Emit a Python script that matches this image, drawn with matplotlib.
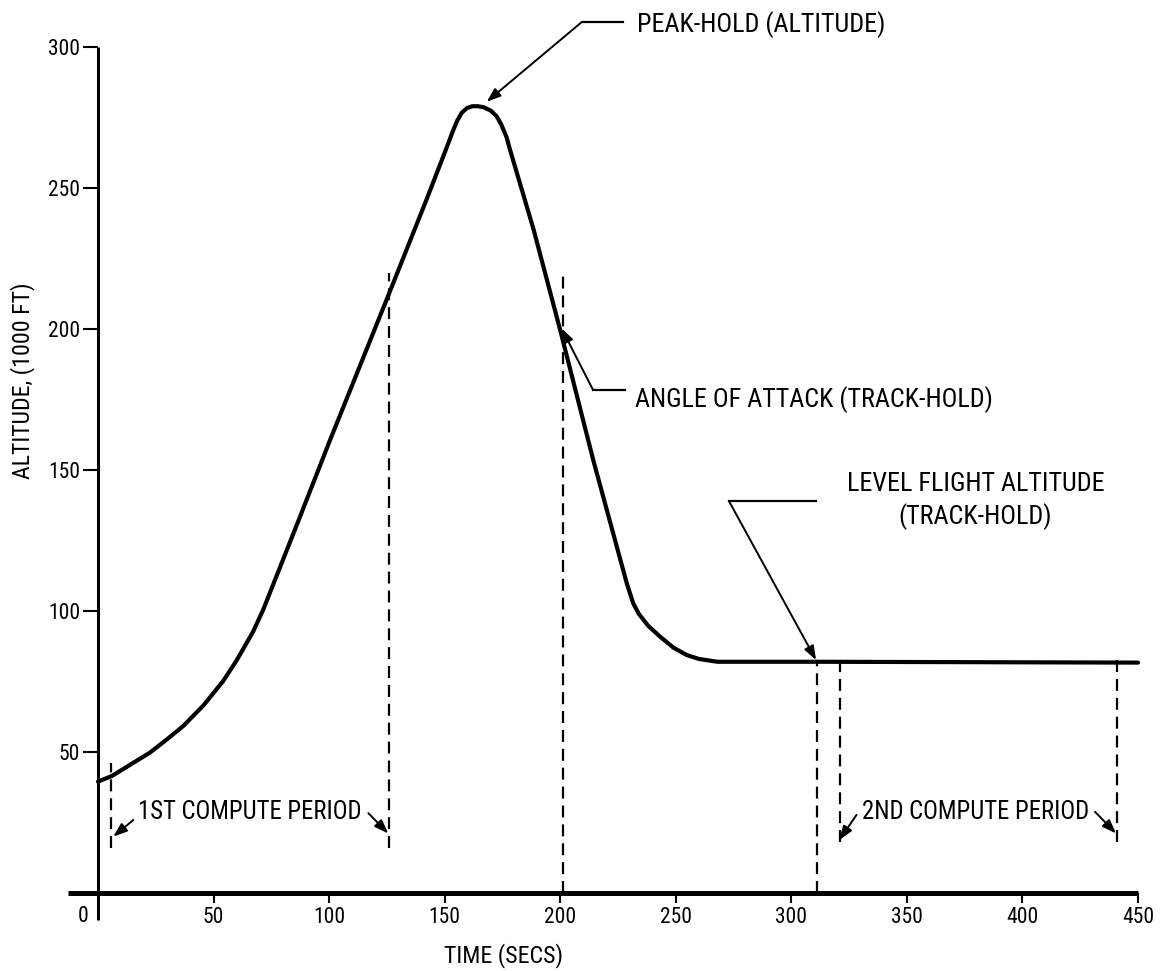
import matplotlib
matplotlib.use("Agg")
import matplotlib.pyplot as plt
from matplotlib import font_manager

# narrow gothic face if there is one, else Liberation Sans
installed = {f.name for f in font_manager.fontManager.ttflist}
face = "Liberation Sans"
for name in ["Liberation Sans Narrow", "DejaVu Sans Condensed", "Roboto Condensed"]:
    if name in installed:
        face = name
        break
plt.rcParams['font.family'] = [face, 'DejaVu Sans']
plt.rcParams['lines.scale_dashes'] = False
narrow = face != "Liberation Sans"

# altitude profile (time in secs, altitude in 1000 ft)
time_s = [0, 6, 11, 22.5, 30, 37, 45.6, 54, 60, 67, 71.5, 86, 100.4,
          126.4, 142.2, 150, 153.7, 155.5, 157.5, 159.8, 162, 164.4, 167,
          170, 172.5, 174.5, 176.8, 178.3, 188.4, 200, 214.3, 228.8, 231.6,
          234, 238, 243.2, 249, 254.7, 260, 268, 311, 450]
altitude = [39.5, 41.5, 44, 49.8, 54.6, 59.3, 66.5, 75, 82.5, 92.5, 100.5,
            130.5, 160.6, 213.5, 246, 262.5, 270.5, 274, 276.8, 278.4, 279, 279,
            278.6, 277.4, 275.4, 272.5, 268, 263.5, 235.5, 199.6, 153.5, 109.8,
            102.7, 99, 94.8, 90.9, 87, 84.4, 83, 82, 82, 81.7]

# dashed markers: (time, bottom, top)
markers_x = [5.6, 126, 201, 311, 321, 441]
markers_lo = [16, 16, 0, 0, 18, 18]
markers_hi = [46, 220, 221, 82, 84, 84]

x_ticks = [50, 100, 150, 200, 250, 300, 350, 400, 450]
y_ticks = [50, 100, 150, 200, 250, 300]

fs_tick = 15.5 if narrow else 13.5
fs_axis = 17.2 if narrow else 14
fs_note = 18.8 if narrow else 15.5
fs_period = 17.8 if narrow else 14.5

fig = plt.figure(figsize=(11.7, 9.71), dpi=100)
ax = fig.add_axes([98 / 1170, 78 / 971, 1040 / 1170, 846 / 971])
ax.set_xlim(0, 450)
ax.set_ylim(0, 300)
for s in ax.spines.values():
    s.set_visible(False)

# axis lines
ax.plot([-13, 450], [0, 0], color="black", lw=3.6, clip_on=False, solid_capstyle="butt")
ax.plot([0, 0], [-9.6, 300], color="black", lw=2.2, clip_on=False, solid_capstyle="butt")

ax.set_xticks(x_ticks)
ax.set_yticks(y_ticks)
ax.tick_params(axis="y", direction="out", length=10.8, width=1.5, pad=2, labelsize=fs_tick)
ax.tick_params(axis="x", direction="out", length=7, width=1.5, pad=3, labelsize=fs_tick)
ax.text(-6.5, -8.2, "0", fontsize=fs_tick, ha="center", va="center")

ax.set_xlabel("TIME (SECS)", fontsize=fs_axis)
ax.xaxis.set_label_coords(175.3 / 450, -17.7 / 300)
ax.set_ylabel("ALTITUDE, (1000 FT)", fontsize=fs_axis)
ax.yaxis.set_label_coords(-27.3 / 450, 181.5 / 300)

# trajectory
ax.plot(time_s, altitude, color="black", lw=3, solid_capstyle="round",
        solid_joinstyle="round", clip_on=False)

# compute period markers
for x, lo, hi in zip(markers_x, markers_lo, markers_hi):
    ax.plot([x, x], [lo, hi], color="black", lw=1.6, dashes=(8.6, 5), clip_on=False)

arrow = dict(arrowstyle="-|>,head_length=0.6,head_width=0.22", color="black",
             lw=1.4, mutation_scale=14, shrinkA=0, shrinkB=0)
lab = dict(fontsize=fs_note, va="center")

# compute periods
ax.text(17.3, 28.8, "1ST COMPUTE PERIOD", ha="left", va="center", fontsize=fs_period)
ax.annotate("", xy=(6.6, 20), xytext=(15.3, 25.9), arrowprops=arrow)
ax.annotate("", xy=(125.6, 21.1), xytext=(117, 28.3), arrowprops=arrow)
ax.text(330.7, 28.8, "2ND COMPUTE PERIOD", ha="left", va="center", fontsize=fs_period)
ax.annotate("", xy=(320.8, 18.8), xytext=(328.2, 27.7), arrowprops=arrow)
ax.annotate("", xy=(440.5, 21.1), xytext=(431.4, 28.8), arrowprops=arrow)

# peak-hold
ax.plot([209.4, 227.2], [308.9, 308.9], color="black", lw=1.6, clip_on=False)
ax.annotate("", xy=(168.2, 280.6), xytext=(209.4, 308.9), arrowprops=arrow, annotation_clip=False)
ax.text(233.2, 307.8, "PEAK-HOLD (ALTITUDE)", ha="left", **lab)

# angle of attack
ax.plot([214.2, 228], [178.4, 178.4], color="black", lw=1.6)
ax.annotate("", xy=(200.6, 200.2), xytext=(214.2, 178.4), arrowprops=arrow)
ax.text(232.4, 174.8, "ANGLE OF ATTACK (TRACK-HOLD)", ha="left", **lab)

# level flight
ax.plot([273, 310.7], [139, 139], color="black", lw=1.6)
ax.annotate("", xy=(310.7, 82.6), xytext=(273, 139), arrowprops=arrow)
ax.text(379.7, 145, "LEVEL FLIGHT ALTITUDE", ha="center", **lab)
ax.text(379.7, 133.5, "(TRACK-HOLD)", ha="center", **lab)

fig.savefig("out.png", dpi=100)
